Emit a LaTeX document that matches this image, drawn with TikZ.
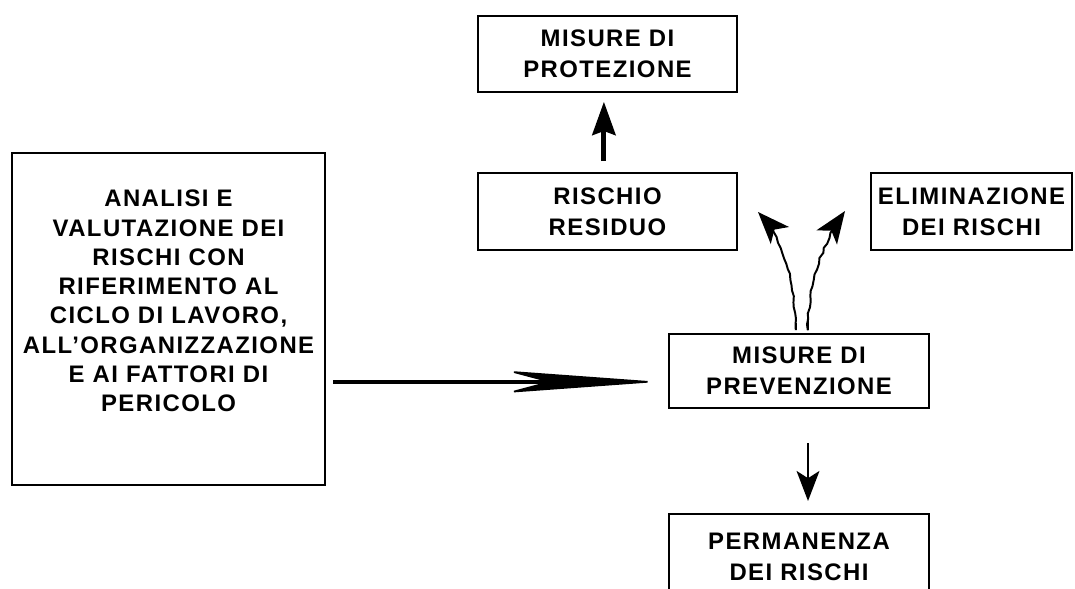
\documentclass[tikz,border=0pt]{standalone}
\usepackage{fontspec}
\setmainfont{Liberation Sans}[LetterSpace=6]
\usepackage{tikz}
\usetikzlibrary{arrows.meta}
\usetikzlibrary{decorations.pathmorphing}
\tikzset{
  box/.style={draw=black, line width=1.4pt, rectangle, align=center, inner sep=0pt,
    font=\bfseries\fontsize{17}{22}\selectfont},
  uparrow/.style={line width=3.5pt, -{Stealth[length=0.83cm,width=0.58cm,inset=0.1cm]}},
  downarrow/.style={line width=1.6pt, -{Stealth[length=0.75cm,width=0.57cm,inset=0.18cm]}},
  bigarrow/.style={line width=2.4pt, -{Stealth[length=3.85cm,width=0.56cm,inset=1.05cm,line width=1.2pt]}},
  wavyarrow/.style={line width=1.4pt, -{Stealth[length=0.8cm,width=0.62cm,inset=0.2cm]},
    decorate, decoration={random steps, segment length=4pt, amplitude=0.7pt, pre length=2pt, post length=8pt}}
}

\begin{document}
\begin{tikzpicture}[x=0.025cm,y=-0.025cm]
\useasboundingbox (0,0) rectangle (1075,588);
\pgfmathsetseed{7}
\node[box, minimum width=6.475cm, minimum height=1.9cm] (prot) at (607.5,54) {MISURE DI\\PROTEZIONE};
\node[box, minimum width=6.475cm, minimum height=1.925cm] (resid) at (607.5,211.5) {RISCHIO\\RESIDUO};
\node[box, minimum width=5.025cm, minimum height=1.925cm] (elim) at (971.5,211.5) {ELIMINAZIONE\\DEI RISCHI};
\node[box, minimum width=6.5cm, minimum height=1.85cm] (prev) at (799,371) {MISURE DI\\PREVENZIONE};
\node[box, minimum width=6.5cm, minimum height=2.125cm] (perm) at (799,556.5) {PERMANENZA\\DEI RISCHI};
\node[box] (analisi) at (168.5,318.75) {\parbox[c][8.29cm][t]{7.825cm}{\centering\fontsize{17}{20.8}\selectfont
  \vspace*{0.93cm}ANALISI E\\VALUTAZIONE DEI\\RISCHI CON\\RIFERIMENTO AL\\CICLO DI LAVORO,\\ALL’ORGANIZZAZIONE\\E AI FATTORI DI\\PERICOLO}};
\coordinate (tipl) at (758,212);
\coordinate (tipr) at (845,211);
\draw[uparrow, shorten <=0.27cm, shorten >=0.22cm] ([xshift=-0.09cm]resid.north) -- ([xshift=-0.09cm]prot.south);
\draw[downarrow, shorten <=0.85cm, shorten >=0.3cm] ([xshift=0.225cm]prev.south) -- ([xshift=0.225cm]perm.north);
\draw[bigarrow, shorten <=0.18cm, shorten >=0.22cm] ([yshift=-0.27cm]prev.west -| analisi.east) -- ([yshift=-0.27cm]prev.west);
\draw[wavyarrow, shorten <=0.35cm] ([xshift=-0.08cm]prev.north) .. controls +(0,-55) and +(22,20) .. (tipl);
\draw[wavyarrow, shorten <=0.35cm] ([xshift=0.22cm]prev.north) .. controls +(0,-55) and +(-18,24) .. (tipr);
\end{tikzpicture}
\end{document}
